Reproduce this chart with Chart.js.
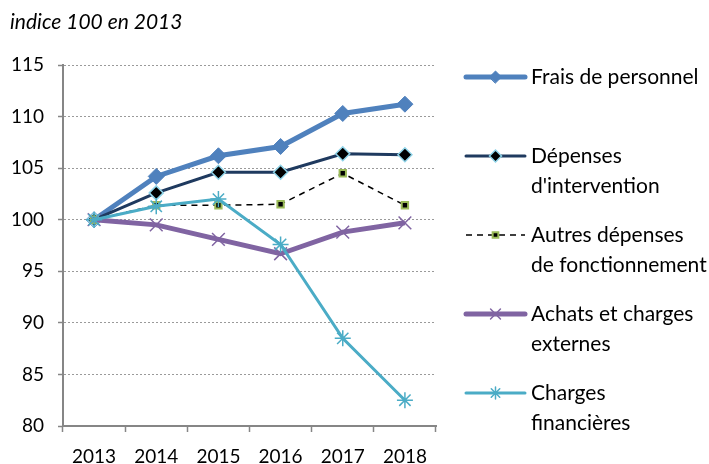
<!DOCTYPE html>
<html>
<head>
<meta charset="utf-8">
<script src="https://cdn.jsdelivr.net/npm/chart.js@4/dist/chart.umd.min.js"></script>
<style>
  html, body { margin: 0; padding: 0; background: #ffffff; }
  #wrap { width: 709px; height: 464px; position: relative; }
</style>
</head>
<body>
<div id="wrap"><canvas id="lineChart"></canvas></div>
<script>
  "use strict";

  const years = ["2013", "2014", "2015", "2016", "2017", "2018"];
  const fraisPersonnel = [100, 104.2, 106.2, 107.1, 110.3, 111.2];
  const depensesIntervention = [100, 102.6, 104.6, 104.6, 106.4, 106.3];
  const autresDepenses = [100, 101.4, 101.4, 101.5, 104.5, 101.4];
  const achatsCharges = [100, 99.5, 98.1, 96.7, 98.8, 99.7];
  const chargesFinancieres = [100, 101.3, 102.0, 97.6, 88.5, 82.5];
  const legendLabels = [
    ["Frais de personnel"],
    ["Dépenses", "d'intervention"],
    ["Autres dépenses", "de fonctionnement"],
    ["Achats et charges", "externes"],
    ["Charges", "financières"],
  ];
  const titleText = "indice 100 en 2013";

  const FONT = "Lato";
  const ctx = document.getElementById("lineChart");

  const datasets = [
    {
      data: fraisPersonnel,
      borderColor: "#4f81bd",
      backgroundColor: "#4f81bd",
      borderWidth: 5,
      pointStyle: "rectRot",
      pointRadius: 8,
      pointBorderWidth: 1,
      legendRadius: 6,
    },
    {
      data: depensesIntervention,
      borderColor: "#1f3a5f",
      backgroundColor: "#000000",
      borderWidth: 3,
      pointStyle: "rectRot",
      pointRadius: 7,
      pointBorderColor: "#8ed3e8",
      pointBorderWidth: 1.5,
      legendRadius: 6,
    },
    {
      data: autresDepenses,
      borderColor: "#000000",
      backgroundColor: "#000000",
      borderWidth: 1.5,
      borderDash: [6, 5],
      pointStyle: "rect",
      pointRadius: 4.5,
      pointBorderColor: "#9bbb59",
      pointBorderWidth: 2,
      legendRadius: 4,
    },
    {
      data: achatsCharges,
      borderColor: "#8064a2",
      backgroundColor: "#8064a2",
      borderWidth: 5,
      pointStyle: "crossRot",
      pointRadius: 9,
      pointBorderWidth: 1.5,
      legendRadius: 7,
    },
    {
      data: chargesFinancieres,
      borderColor: "#4bacc6",
      backgroundColor: "#4bacc6",
      borderWidth: 3,
      pointStyle: "star",
      pointRadius: 8,
      pointBorderWidth: 1.5,
      legendRadius: 6,
    },
  ];
  datasets.forEach((d, i) => {
    d.label = legendLabels[i].join(" ");
    d.order = datasets.length - i;
    d.tension = 0;
    d.pointBackgroundColor = d.backgroundColor;
    if (!d.pointBorderColor) d.pointBorderColor = d.borderColor;
  });

  // title + legend drawn on the canvas
  const sideLegend = {
    id: "sideLegend",
    afterDraw: (chart) => {
      const c = chart.ctx;
      c.save();
      c.fillStyle = "#000000";
      c.textBaseline = "middle";
      c.textAlign = "left";
      c.font = "italic 21px " + FONT;
      c.fillText(titleText, 10, 22);

      c.font = "21px " + FONT;
      const x0 = 466, x1 = 525, tx = 531;
      chart.data.datasets.forEach((ds, i) => {
        const y = 77 + i * 79;
        c.save();
        c.strokeStyle = ds.borderColor;
        c.lineWidth = ds.borderWidth;
        c.lineCap = ds.borderDash ? "butt" : "round";
        c.setLineDash(ds.borderDash || []);
        c.beginPath();
        c.moveTo(x0, y);
        c.lineTo(x1, y);
        c.stroke();
        c.setLineDash([]);
        c.fillStyle = ds.pointBackgroundColor;
        c.strokeStyle = ds.pointBorderColor;
        c.lineWidth = ds.pointBorderWidth;
        Chart.helpers.drawPoint(
          c,
          {
            pointStyle: ds.pointStyle,
            radius: ds.legendRadius,
            rotation: 0,
            borderWidth: ds.pointBorderWidth,
          },
          (x0 + x1) / 2,
          y
        );
        c.restore();
        legendLabels[i].forEach((line, j) => {
          c.fillText(line, tx, y + j * 30);
        });
      });
      c.restore();
    },
  };

  new Chart(ctx, {
    type: "line",
    data: {
      labels: years,
      datasets: datasets,
    },
    options: {
      responsive: true,
      maintainAspectRatio: false,
      animation: false,
      layout: {
        padding: { top: 65, right: 273, bottom: 0, left: 0 },
      },
      plugins: {
        legend: { display: false },
        title: { display: false },
        tooltip: { enabled: false },
      },
      scales: {
        x: {
          offset: true,
          grid: {
            display: true,
            drawOnChartArea: false,
            drawTicks: true,
            tickLength: 6,
            tickColor: "#868686",
            tickWidth: 1.5,
            offset: true,
          },
          border: { display: true, color: "#868686", width: 2 },
          ticks: {
            color: "#000000",
            font: { family: FONT, size: 19 },
            padding: 13,
            maxRotation: 0,
          },
          afterFit: (scale) => {
            scale.height = 38;
          },
        },
        y: {
          min: 80,
          max: 115,
          ticks: {
            stepSize: 5,
            color: "#000000",
            font: { family: FONT, size: 19 },
            padding: 14,
          },
          grid: {
            color: "#9a9a9a",
            lineWidth: 1,
            drawTicks: true,
            tickLength: 5,
            tickColor: "#868686",
            tickWidth: 1.5,
          },
          border: { display: true, color: "#868686", width: 2, dash: [2, 2] },
          afterFit: (scale) => {
            scale.width = 63;
          },
        },
      },
    },
    plugins: [sideLegend],
  });
</script>
</body>
</html>
